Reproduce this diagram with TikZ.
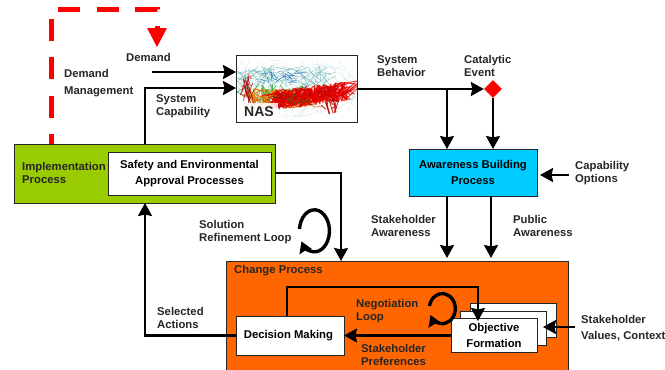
\documentclass[tikz,border=0pt]{standalone}
\usepackage{fontspec}
\setmainfont{Liberation Sans}
\usepackage{tikz}
\usetikzlibrary{arrows.meta, shapes.geometric, calc}
\definecolor{impl_green}{HTML}{99CC00}
\definecolor{aware_blue}{HTML}{00CCFF}
\definecolor{change_orange}{HTML}{FF6600}
\tikzset{
  label_font/.style = {font=\fontsize{11.3}{13}\selectfont\bfseries},
  proc_box/.style = {draw=black!85, line width=1, inner sep=0, outer sep=0, anchor=north west, align=center, label_font},
  white_box/.style = {proc_box, fill=white},
  lbl/.style = {label_font, text=black!85, align=left, anchor=west, inner sep=0}
}
\tikzset{
  flow/.style = {line width=2.4, -{Stealth[inset=1.5,length=13,width=14]}},
  loop_arc/.style = {line width=3.4, -{Stealth[inset=1,length=11,width=13]}},
  demand_line/.style = {red, line width=5, dash pattern=on 22 off 16.5, dash phase=12}
}
\begin{document}
\begin{tikzpicture}[x=1pt, y=1pt]{
        \path[use as bounding box, clip] (0,-370) rectangle (665,0);

        % NAS traffic picture
        \pgfmathsetseed{11}
        \begin{scope}
            \clip (236,-55) rectangle (357,-122);
            \foreach \col/\num/\lw/\xl/\xw/\yt/\sl/\yh/\len in {
                teal!25/110/0.3/238/118/60/0/58/70,
                teal!65/90/0.4/243/85/66/0/24/40,
                blue!45!teal/20/0.4/248/60/70/0/14/30,
                green!60!black/50/0.6/246/60/84/0/20/30,
                orange!90!black/130/0.9/250/70/88/0/20/30,
                red!90!black/320/1/274/72/90/0.12/20/30,
                green!55!black/14/0.5/262/50/94/0/10/20,
                red!65!black/40/0.4/274/70/90/0.12/20/24,
                red!75!black/16/1/325/12/97/0/18/10,
                red!70!black/24/0.7/243/8/72/0/34/12
            }{
                \foreach \i in {1,...,\num}{
                    \pgfmathsetmacro{\xa}{\xl+\xw*rnd}
                    \pgfmathsetmacro{\xb}{\xa+\len*(rnd-0.5)}
                    \pgfmathsetmacro{\ya}{\yt-\sl*(\xa-\xl)+\yh*rnd}
                    \pgfmathsetmacro{\yb}{\yt-\sl*(\xb-\xl)+\yh*rnd}
                    \draw[\col, line width=\lw, opacity=0.75] (\xa,-\ya) -- (\xb,-\yb);
                }
            }
            \fill[white, opacity=0.85] (238,-103) rectangle (278,-121);
        \end{scope}

        % Boxes
        \node[proc_box, minimum width=121, minimum height=67] at (236,-55) (nas) {};
        \node[proc_box, fill=impl_green, minimum width=261, minimum height=59] at (14,-144) (impl) {};
        \node[white_box, minimum width=163, minimum height=43] at (108,-152) (safety) {
            Safety and Environmental \\[3pt]
            Approval Processes
            };
        \node[proc_box, fill=aware_blue, minimum width=128, minimum height=47] at (409,-149) (aware) {
            Awareness Building \\[3pt]
            Process
            };
        \node[proc_box, fill=change_orange, minimum width=342, minimum height=114] at (226,-261) (change) {};
        \node[white_box, minimum width=108, minimum height=39] at (236,-316) (decision) {
            Decision Making
            };
        \node[white_box, minimum width=86, minimum height=34] at (470,-303) (obj_back) {};
        \node[white_box, minimum width=86, minimum height=34] at (460,-311) (obj_mid) {};
        \node[white_box, minimum width=86, minimum height=34] at (451,-318) (obj_front) {
            Objective \\[3pt]
            Formation
            };
        \node[diamond, fill=red, inner sep=0, minimum size=18] at (493,-89) (catalytic) {};

        % Free ends
        \coordinate (dm_corner) at (51,-9);
        \coordinate (dm_end) at (157,-47);
        \coordinate (demand_in) at (152,-72);
        \coordinate (capability_in) at (145,-88);
        \coordinate (branch) at (447,-89);
        \coordinate (options_in) at (569,-175);
        \coordinate (values_in) at (575,-327);

        % Arrows and lines
        \draw[demand_line] (impl.north -| dm_corner) -- (dm_corner) -- (dm_corner -| dm_end) -- ($(dm_end)+(0,19)$);
        \fill[red] (dm_end) -- ++(-10,19) -- ++(20,0) -- cycle;

        \draw[flow] (demand_in) -- (demand_in -| nas.west);
        \draw[flow] (impl.north -| capability_in) -- (capability_in) -- (capability_in -| nas.west);
        \draw[flow] (nas.east |- catalytic) -- (catalytic.west);
        \draw[flow] (branch) -- (branch |- aware.north);
        \draw[flow] (catalytic.south) -- (catalytic |- aware.north);
        \draw[flow] (options_in) -- ($(options_in -| aware.east)+(3,0)$);
        \draw[flow] (aware.south -| branch) -- ($(change.north -| branch)+(0,3)$);
        \draw[flow] (aware.south -| 491,0) -- ($(change.north -| 491,0)+(0,3)$);
        \draw[flow] (impl.east |- 0,-173) -- (341,-173) -- (change.north -| 341,0);
        \draw[flow] (decision.west) -- (decision.west -| 145,0) -- (impl.south -| 145,0);
        \draw[flow] (obj_front.west |- decision.west) -- (decision.east);
        \draw[flow] (decision.north -| 287,0) -- (287,-287) -- (478,-287) -- (478,-321);
        \draw[flow, shorten >=-3] (values_in) -- (values_in -| obj_mid.east);

        % Loops
        \draw[loop_arc] (299.5,-229) arc[start angle=175, end angle=-150, x radius=15, y radius=21];
        \draw[loop_arc] (429.5,-306) arc[start angle=170, end angle=-155, x radius=13, y radius=15];

        % Labels
        \node[lbl] at (126,-57) (demand_lbl) {Demand};
        \node[lbl] at (64,-83.5) (management_lbl) {Demand \\[4pt] Management};
        \node[lbl] at (156,-106.5) (capability_lbl) {System \\ Capability};
        \node[lbl, font=\fontsize{14}{15}\selectfont\bfseries] at (244,-112) (nas_lbl) {NAS};
        \node[lbl] at (377,-66.5) (behavior_lbl) {System \\ Behavior};
        \node[lbl] at (464,-65.5) (event_lbl) {Catalytic \\ Event};
        \node[lbl] at (575,-173.5) (options_lbl) {Capability \\ Options};
        \node[lbl] at (371,-226) (s_aware_lbl) {Stakeholder \\ Awareness};
        \node[lbl] at (513,-226) (p_aware_lbl) {Public \\ Awareness};
        \node[lbl] at (199,-232) (refine_lbl) {Solution \\ Refinement Loop};
        \node[lbl] at (234,-271) (change_lbl) {Change Process};
        \node[lbl] at (157,-318) (selected_lbl) {Selected \\ Actions};
        \node[lbl] at (356,-311.5) (negotiate_lbl) {Negotiation \\ Loop};
        \node[lbl] at (361,-354.5) (prefs_lbl) {Stakeholder \\ Preferences};
        \node[lbl] at (581,-328) (values_lbl) {Stakeholder \\[3pt] Values, Context};
        \node[lbl] at (22,-173) (impl_lbl) {Implementation \\ Process};
        }
\end{tikzpicture}
\end{document}
